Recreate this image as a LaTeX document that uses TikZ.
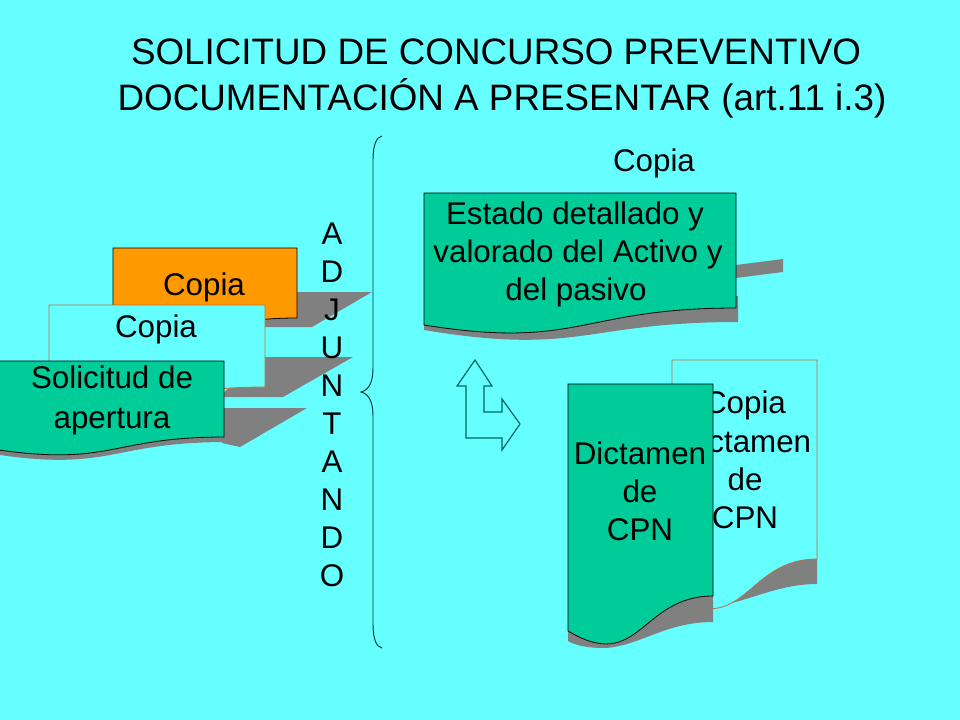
\documentclass[tikz,border=0pt]{standalone}
\usepackage{fontspec}
\setmainfont{Liberation Sans}
\definecolor{bg}{RGB}{102,255,255}
\definecolor{docgreen}{RGB}{0,204,153}
\definecolor{docorange}{RGB}{255,153,0}
\definecolor{shadowgray}{RGB}{128,128,128}
\definecolor{copyedge}{RGB}{190,110,60}
\definecolor{arrowc}{RGB}{0,102,102}
\definecolor{bracec}{RGB}{0,51,51}
\begin{document}
\begin{tikzpicture}[x=0.75bp,y=-0.75bp,
  doc/.style={draw=black,line width=0.6pt},
  copydoc/.style={draw=copyedge,line width=0.6pt,fill=bg},
  shadowfill/.style={fill=shadowgray,draw=none},
  txt/.style={anchor=base,inner sep=0pt,font=\fontsize{23.5bp}{28.5bp}\selectfont},
  titletxt/.style={anchor=base,inner sep=0pt,font=\fontsize{27.6bp}{33bp}\selectfont}]
\fill[bg] (0,0) rectangle (960,720);
\useasboundingbox (0,0) rectangle (960,720);

% title
\node[titletxt] (t1) at (496,64) {SOLICITUD DE CONCURSO PREVENTIVO};
\node[titletxt] (t2) at (502,110) {DOCUMENTACIÓN A PRESENTAR (art.11 i.3)};

% orange copy
\path[shadowfill] (290,292) -- (372,292) -- (312,327) -- (260,327) -- cycle;
\draw[doc,fill=docorange] (113,248) -- (297,248) -- (297,318) .. controls (205,318) and (205,345) .. (113,330) -- cycle;
\node[txt] (c1) at (204,295) {Copia};

% light copy
\path[shadowfill] (258,357) -- (353,357) -- (283,397) -- (220,397) -- cycle;
\draw[copydoc] (49,305) -- (265,305) -- (265,387) .. controls (157,387) and (157,415) .. (49,400) -- cycle;
\node[txt] (c2) at (156,337) {Copia};

% solicitud
\path[shadowfill] (220,408) -- (307,408) -- (240,447) -- (222,443) -- cycle;
\path[shadowfill] (224,430) -- (227,430) -- (227,442) .. controls (112,442) and (112,471) .. (0,455) -- (0,430) -- cycle;
\draw[doc,fill=docgreen] (-1,361) -- (224,361) -- (224,437) .. controls (112,437) and (112,466) .. (-1,450) -- cycle;
\node[txt] (s1) at (112,388) {Solicitud de};
\node[txt] (s2) at (112,428) {apertura};

% ADJUNTANDO
\foreach \l [count=\i from 0] in {A,D,J,U,N,T,A,N,D,O}
  \node[txt] (adj\i) at (332,{244+38.1*\i}) {\l};

% brace
\draw[bracec,line width=0.7pt] (382,136) .. controls (376,137) and (373,146) .. (373,160)
  -- (373,368) .. controls (373,382) and (369,390) .. (361,392)
  .. controls (369,394) and (373,402) .. (373,416)
  -- (373,624) .. controls (373,638) and (376,647) .. (382,648);

% top right copia
\node[txt] (c3) at (654,171) {Copia};

% estado
\path[shadowfill] (728,266) -- (783,259) -- (783,272) -- (728,279) -- cycle;
\path[shadowfill] (736,296) -- (738,296) -- (738,322) .. controls (585,322) and (580,356) .. (424,330) -- (424,296) -- cycle;
\draw[doc,fill=docgreen] (424,193) -- (736,193) -- (736,308) .. controls (580,308) and (580,350) .. (424,325) -- cycle;
\node[txt] (e1) at (575,224) {Estado detallado y};
\node[txt] (e2) at (578,262) {valorado del Activo y};
\node[txt] (e3) at (576,300) {del pasivo};

% arrow
\draw[arrowc,line width=0.9pt,fill=bg] (475,360) -- (492,386) -- (484,386) -- (484,412) -- (502,412)
  -- (502,399) -- (520,424) -- (502,450) -- (502,438) -- (466,438) -- (466,386) -- (457,386) -- cycle;

% copia dictamen
\path[shadowfill] (817,540) -- (817,584) .. controls (775,584) and (745,604) .. (705,608) -- (705,540) -- cycle;
\draw[copydoc] (672,360) -- (817,360) -- (817,559) .. controls (745,559) and (745,640) .. (672,595) -- cycle;
\node[txt] (d1) at (745,413) {Copia};
\node[txt] (d2) at (745,452) {Dictamen};
\node[txt] (d3) at (745,490) {de};
\node[txt] (d4) at (745,528) {CPN};

% dictamen
\path[shadowfill] (713,580) -- (713,622) .. controls (665,622) and (640,646) .. (605,648)
  .. controls (585,648) and (575,645) .. (568,641) -- (568,600) -- cycle;
\draw[doc,fill=docgreen] (568,384) -- (713,384) -- (713,596) .. controls (640,596) and (640,674) .. (568,631) -- cycle;
\node[txt] (g1) at (640,464) {Dictamen};
\node[txt] (g2) at (640,502) {de};
\node[txt] (g3) at (640,540) {CPN};
\end{tikzpicture}
\end{document}
